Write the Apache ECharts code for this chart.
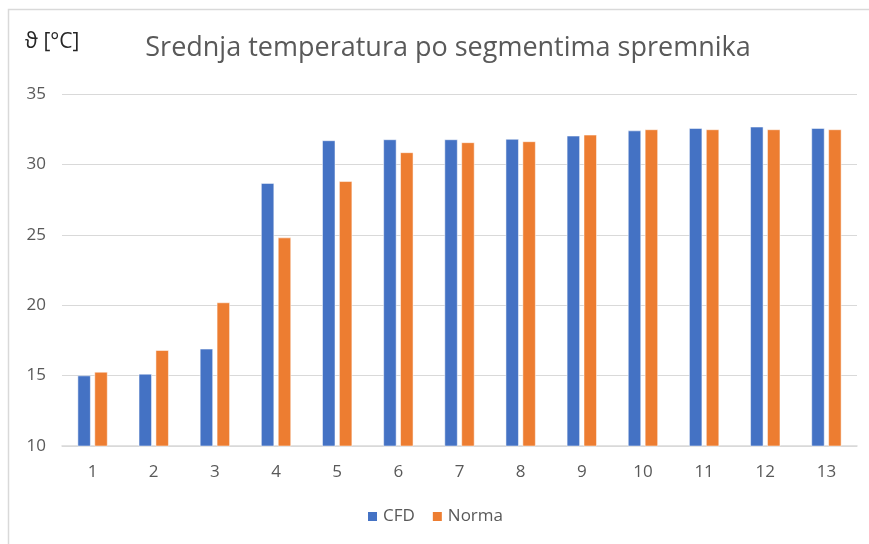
<!DOCTYPE html>
<html>
<head>
<meta charset="utf-8">
<script src="https://cdn.jsdelivr.net/npm/echarts@6/dist/echarts.min.js"></script>
<style>
html,body{margin:0;padding:0;background:#fff;}
#c{width:869px;height:544px;}
</style>
</head>
<body>
<div id="c"></div>
<script>
const categories = ['1','2','3','4','5','6','7','8','9','10','11','12','13'];
const cfd   = [15.0, 15.12, 16.9, 28.67, 31.7, 31.77, 31.77, 31.8, 32.03, 32.4, 32.57, 32.67, 32.57];
const norma = [15.26, 16.8, 20.19, 24.8, 28.8, 30.85, 31.56, 31.63, 32.1, 32.48, 32.48, 32.48, 32.48];
const yMin = 10, yMax = 35, yStep = 5;
const titleText = 'Srednja temperatura po segmentima spremnika';
const yUnit = 'ϑ [°C]';

const chart = echarts.init(document.getElementById('c'));
const font = 'Open Sans';
chart.setOption({
  animation: false,
  backgroundColor: '#fff',
  graphic: [{
    type: 'rect', left: 6, top: 7, shape: {width: 862, height: 545},
    style: {fill: 'none', stroke: '#d9d9d9', lineWidth: 1.5}, silent: true
  }, {
    type: 'text', left: 25, top: 32,
    style: {text: yUnit, fontFamily: font, fontSize: 21, fill: '#262626'}
  }],
  title: {
    text: titleText, left: 443, top: 30, textAlign: 'center',
    textStyle: {fontFamily: font, fontSize: 27, fontWeight: 'normal', color: '#595959'}
  },
  legend: {
    bottom: 14, left: 'center', itemWidth: 11, itemHeight: 11, itemGap: 16,
    icon: 'rect',
    textStyle: {fontFamily: font, fontSize: 17, color: '#595959'},
    data: ['CFD', 'Norma']
  },
  grid: {left: 62, right: 12, top: 94, bottom: 98, containLabel: false},
  xAxis: {
    type: 'category', data: categories,
    axisLine: {lineStyle: {color: '#d9d9d9', width: 1.5}},
    axisTick: {show: false},
    axisLabel: {fontFamily: font, fontSize: 17, color: '#595959', margin: 18}
  },
  yAxis: {
    type: 'value', min: yMin, max: yMax, interval: yStep,
    axisLine: {show: false}, axisTick: {show: false},
    splitLine: {lineStyle: {color: '#d9d9d9', width: 1.2}},
    axisLabel: {fontFamily: font, fontSize: 17, color: '#595959', margin: 16}
  },
  series: [{
    name: 'CFD', type: 'bar', data: cfd, barWidth: 13, barGap: '30%',
    itemStyle: {color: '#4472C4', borderColor: '#fff', borderWidth: 0.5}
  }, {
    name: 'Norma', type: 'bar', data: norma, barWidth: 13,
    itemStyle: {color: '#ED7D31', borderColor: '#fff', borderWidth: 0.5}
  }]
});
</script>
</body>
</html>
